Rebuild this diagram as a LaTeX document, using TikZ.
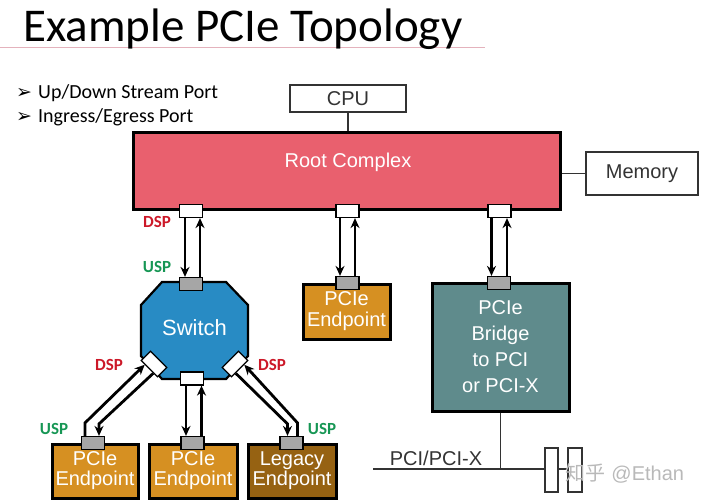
\documentclass[tikz,border=0pt]{standalone}
\usepackage{fontspec}
\setmainfont{Liberation Sans}
\newfontfamily\calfont{Carlito}
\newfontfamily\symfont{DejaVu Sans}
\newfontfamily\cjkfont{Noto Sans CJK SC}
\usetikzlibrary{arrows.meta,calc}

\definecolor{rcred}{RGB}{233,96,110}
\definecolor{swblue}{RGB}{40,139,196}
\definecolor{eporange}{RGB}{214,144,34}
\definecolor{legbrown}{RGB}{150,98,18}
\definecolor{brteal}{RGB}{95,139,140}
\definecolor{portgray}{RGB}{166,166,166}
\definecolor{dspred}{RGB}{204,24,40}
\definecolor{uspgreen}{RGB}{22,150,84}
\definecolor{textgray}{RGB}{51,51,51}
\definecolor{titlepink}{RGB}{228,178,188}

\tikzset{
  box/.style={draw=black, line width=3pt, text=white, align=center, inner sep=0pt},
  epbox/.style={box, fill=eporange, minimum height=54pt, font=\fontsize{20}{20}\selectfont},
  plainbox/.style={draw=textgray, line width=1.6pt, fill=white, text=textgray, inner sep=0pt, font=\fontsize{20}{20}\selectfont},
  wport/.style={draw=black, fill=white, line width=1.2pt, minimum width=23pt, minimum height=13pt, inner sep=0pt},
  gport/.style={wport, fill=portgray},
  link/.style={line width=2.8pt, -{Stealth[length=10pt,width=9pt]}},
  wire/.style={draw=textgray, line width=1.6pt},
  dsp/.style={text=dspred, font=\calfont\bfseries\fontsize{17}{17}\selectfont},
  usp/.style={dsp, text=uspgreen}
}

\begin{document}
\begin{tikzpicture}[x=1pt,y=-1pt]
\useasboundingbox (0,0) rectangle (705,500);

% title and notes
\draw[titlepink, line width=0.8pt] (0,47) -- (485,47);
\node[anchor=base west, inner sep=0pt, font=\calfont\fontsize{47}{47}\selectfont] (title) at (23,42) {Example PCIe Topology};
\node[anchor=base west, inner sep=0pt, font=\calfont\fontsize{20}{20}\selectfont] (note1) at (16,99) {\makebox[22pt][l]{\symfont\fontsize{19}{19}\selectfont ➢}Up/Down Stream Port};
\node[anchor=base west, inner sep=0pt, font=\calfont\fontsize{20}{20}\selectfont] (note2) at (16,123) {\makebox[22pt][l]{\symfont\fontsize{19}{19}\selectfont ➢}Ingress/Egress Port};

% cpu, root complex, memory
\node[plainbox, minimum width=116pt, minimum height=27pt] (cpu) at (348,98.5) {CPU};
\node[box, fill=rcred, minimum width=427pt, minimum height=77pt] (rc) at (346.5,171.5) {};
\node[text=white, inner sep=0pt, font=\fontsize{20}{20}\selectfont] (rclabel) at (348,162) {Root Complex};
\node[plainbox, minimum width=112pt, minimum height=43pt] (mem) at (642,173.5) {Memory};
\draw[wire] (cpu.south) -- (cpu.south |- rc.north);
\draw[wire] (rc.east |- mem.west) -- (mem.west);

% switch
\filldraw[draw=black, line width=2.2pt, fill=swblue] (162,282) -- (226,282) -- (248,305) -- (248,356)
  -- (226,379) -- (162,379) -- (141,356) -- (141,305) -- cycle;
\node[text=white, inner sep=0pt, font=\fontsize{22}{22}\selectfont] (sw) at (194.5,328) {Switch};

% endpoints and bridge
\node[epbox, minimum width=87pt, minimum height=55pt, font=\fontsize{20}{21}\selectfont] (ep0) at (346.5,311.5) {PCIe\\Endpoint};
\node[box, fill=brteal, minimum width=137pt, minimum height=128pt, font=\fontsize{20}{26}\selectfont] (bridge) at (500.5,347) {PCIe\\Bridge\\to PCI\\or PCI-X};
\node[epbox, minimum width=86pt] (ep1) at (95,471) {PCIe\\Endpoint};
\node[epbox, minimum width=88pt] (ep2) at (193,471) {PCIe\\Endpoint};
\node[epbox, fill=legbrown, minimum width=88pt] (ep3) at (292,471) {Legacy\\Endpoint};

% ports
\node[wport] (rcp1) at (191,211) {};
\node[wport] (rcp2) at (347.5,211) {};
\node[wport] (rcp3) at (499.5,211) {};
\node[gport] (swu) at (191,284) {};
\node[wport] (swb) at (192,378.5) {};
\node[wport, rotate=-45] (swl) at (154,364) {};
\node[wport, rotate=45] (swr) at (235,364) {};
\node[gport] (ep0p) at (347.5,283) {};
\node[gport] (brp) at (499,283) {};
\node[gport] (ep1p) at (93,443) {};
\node[gport] (ep2p) at (192.5,443) {};
\node[gport] (ep3p) at (291.5,443) {};

% links
\draw[link] ([xshift=-6pt]rcp1.south) -- ([xshift=-6pt]rcp1.south |- swu.north);
\draw[link] ([xshift=9pt]swu.north) -- ([xshift=9pt]swu.north |- rcp1.south);
\draw[link] ([xshift=-7.5pt]rcp2.south) -- ([xshift=-7.5pt]rcp2.south |- ep0p.north);
\draw[link] ([xshift=7.5pt]ep0p.north) -- ([xshift=7.5pt]ep0p.north |- rcp2.south);
\draw[link] ([xshift=-8pt]rcp3.south) -- ([xshift=-8pt]rcp3.south |- brp.north);
\draw[link] ([xshift=8pt]brp.north) -- ([xshift=8pt]brp.north |- rcp3.south);
\draw[link] ([xshift=-6pt]swb.south) -- ([xshift=-6pt]swb.south |- ep2p.north);
\draw[link] ([xshift=9pt]ep2p.north) -- ([xshift=9pt]ep2p.north |- swb.south);
\draw[link] ([xshift=-8pt]ep1p.north) -- ++(0,-13) -- ($(swl.south)!0.5!(swl.south west)$);
\draw[link] ($(swl.south)!0.5!(swl.south east)$) -- ($(ep1p.north)+(6,-12)$) -- ([xshift=6pt]ep1p.north);
\draw[link] ([xshift=6pt]ep3p.north) -- ++(0,-13) -- ($(swr.south)!0.5!(swr.south east)$);
\draw[link] ($(swr.south)!0.5!(swr.south west)$) -- ($(ep3p.north)+(-4,-12)$) -- ([xshift=-4pt]ep3p.north);

% port labels
\node[dsp] (dsp1) at (157,222) {DSP};
\node[usp] (usp1) at (157,267) {USP};
\node[dsp] (dsp2) at (109,365) {DSP};
\node[dsp] (dsp3) at (272,365) {DSP};
\node[usp] (usp2) at (54,429) {USP};
\node[usp] (usp3) at (322,429) {USP};

% pci bus
\coordinate (busl) at (373,469);
\draw[wire] (bridge.south) -- (bridge.south |- busl);
\node[plainbox, draw=none, fill=none] (buslabel) at (436,458) {PCI/PCI-X};
\node[plainbox, line width=1.2pt, minimum width=13pt, minimum height=44pt] (slot1) at (551.5,470) {};
\node[plainbox, line width=1.2pt, minimum width=14pt, minimum height=44pt] (slot2) at (575,470) {};
\draw[wire] (busl) -- (slot1.west |- busl);
\draw[wire] (slot1.east |- busl) -- (slot2.west |- busl);
\node[text=gray!55, inner sep=0pt, font=\fontsize{20}{20}\selectfont] (mark) at (625,473) {{\cjkfont 知乎} @Ethan};
\end{tikzpicture}
\end{document}
